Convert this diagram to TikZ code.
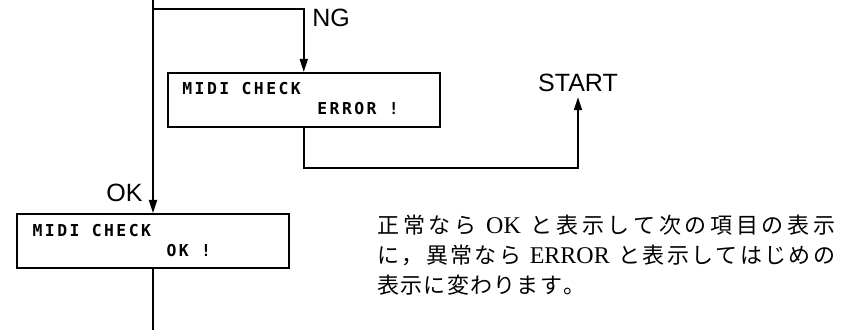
\documentclass[tikz,border=0pt]{standalone}
\usepackage{fontspec}
\usetikzlibrary{arrows.meta,positioning,calc}
\newfontfamily\labelfont{Liberation Sans}
\newfontfamily\lcdfont[LetterSpace=15]{DejaVu Sans Mono}
\newfontfamily\jafont{Noto Sans CJK JP}
\newfontfamily\noteserif{Liberation Serif}
% spread the characters of one line over a given width
\def\jspread#1{\ifx\relax#1\else#1\hfill\expandafter\jspread\fi}
\newcommand{\jline}[2]{\makebox[#1][s]{\jspread#2\relax\unskip}}
\newcommand{\jlatin}[1]{\hspace{3pt}{\noteserif\fontsize{12pt}{15pt}\selectfont#1}\hspace{3pt}}

\begin{document}
\begin{tikzpicture}[x=0.5pt,y=-0.5pt,>={Triangle[length=6.5pt,width=4pt]},
 flow/.style={line width=0.9pt},
 lcd/.style={draw,line width=0.8pt,minimum width=136pt,minimum height=27pt,inner sep=0pt},
 lcdtext/.style={font=\lcdfont\bfseries\fontsize{8.2pt}{10pt}\selectfont,inner sep=0pt,anchor=west},
 tag/.style={font=\labelfont\fontsize{12.5pt}{14pt}\selectfont,inner sep=2.5pt}]
\useasboundingbox (0,0) rectangle (858,330);
\coordinate (top) at (153,0);
\coordinate (split) at (153,9);
\coordinate (bottom) at (153,330);
\coordinate (back) at (578,168);
% the two displays
\node[lcd,anchor=north west] (errbox) at (167,72) {};
\node[lcdtext] (errtop) at ($(errbox.north west)+(15,17)$) {MIDI CHECK};
\node[lcdtext] (errmsg) at ($(errbox.north west)+(150,37)$) {ERROR !};
\node[lcd,anchor=north] (okbox) at (153,213) {};
\node[lcdtext] (oktop) at ($(okbox.north west)+(16,18)$) {MIDI CHECK};
\node[lcdtext] (okmsg) at ($(okbox.north west)+(150,38)$) {OK !};
% labels
\node[tag,anchor=west] (ng) at (307,18) {NG};
\node[tag] (start) at (578,83) {START};
\node[tag,anchor=east] (ok) at (148,193) {OK};
% flow
\draw[flow,->] (top) -- (okbox.north);
\draw[flow] (okbox.south) -- (bottom);
\draw[flow,->] (split) -| (errbox.north);
\draw[flow,->] (errbox.south) |- (back) -- (start.south);
% note
\node[anchor=west,align=left,inner sep=0pt,font=\jafont\fontsize{11pt}{15pt}\selectfont] (note) at (377,255)
 {\jline{229pt}{正常なら{\jlatin{OK}}と表示して次の項目の表示}\\
  \jline{229pt}{に，異常なら{\jlatin{ERROR}}と表示してはじめの}\\
  \jline{104pt}{表示に変わります。}};
\end{tikzpicture}
\end{document}
